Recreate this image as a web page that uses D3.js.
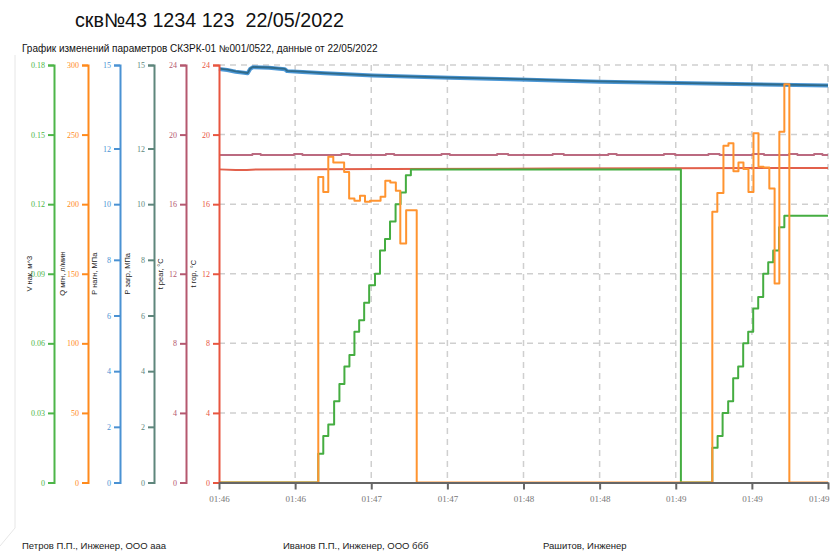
<!DOCTYPE html>
<html>
<head>
<meta charset="utf-8">
<script src="https://cdn.jsdelivr.net/npm/d3@7/dist/d3.min.js"></script>
<style>
  body { margin: 0; background: #fff; }
  svg { display: block; }
</style>
</head>
<body>
<script>
// --- data (time offsets in seconds from 01:46:20) ---
const startTime = new Date(2022, 4, 22, 1, 46, 20);
const spanSeconds = 219;

const vTimes = [0, 35.7, 37.5, 39.3, 41.4, 43.3, 45.1, 46.9, 48.7, 50.4, 52.2, 54.0, 56.1, 57.9, 59.7, 61.5, 63.5, 65.3, 67.2, 69.0,
  166.1, 177.4, 179.3, 181.1, 183.1, 184.9, 186.7, 188.5, 190.3, 192.1, 193.9, 195.7, 197.5, 199.3, 201.4, 203.3, 219];
const vValues = [0, 0.0124, 0.02, 0.025, 0.035, 0.0425, 0.05, 0.055, 0.065, 0.07, 0.0775, 0.085, 0.09, 0.1, 0.105, 0.1125, 0.12, 0.125, 0.1325, 0.135,
  0, 0.015, 0.02, 0.03, 0.035, 0.045, 0.05, 0.06, 0.065, 0.075, 0.08, 0.09, 0.095, 0.1, 0.11, 0.115, 0.115];

const qTimes = [0, 35.7, 37.5, 39.3, 41.1, 45.0, 46.8, 48.7, 50.7, 52.5, 54.3, 58.1, 59.8, 61.6, 63.6, 65.2, 67.3, 71.1,
  177.4, 179.2, 181.4, 183.2, 185.0, 186.8, 188.6, 190.4, 192.2, 194.0, 195.8, 197.9, 199.8, 201.5, 203.3, 205.1, 219];
const qValues = [0, 219.6, 208.8, 234, 230, 223.2, 204, 202.4, 206, 201.7, 202.4, 205.3, 216.8, 215.6, 209.6, 171.7, 195.7, 0,
  194.5, 208.1, 241.9, 243.7, 223.7, 230, 225.2, 208.8, 250.9, 226.8, 226.4, 211.3, 143, 252, 286.1, 0, 0];

const pInjTimes = [0, 3, 6, 9, 10.3, 11.2, 12.2, 18, 23.7, 24.5, 30, 38.1, 55.4, 83.1, 104.7, 137, 170, 219];
const pInjValues = [14.86, 14.82, 14.76, 14.72, 14.70, 14.86, 14.92, 14.9, 14.85, 14.78, 14.75, 14.70, 14.62, 14.54, 14.49, 14.40, 14.34, 14.26];

const pLoadTimes = [0, 3, 6, 9, 10.3, 11.2, 12.2, 18, 23.7, 24.5, 30, 38.1, 55.4, 83.1, 104.7, 137, 170, 219];
const pLoadValues = [14.87, 14.83, 14.77, 14.73, 14.71, 14.87, 14.93, 14.91, 14.86, 14.79, 14.76, 14.71, 14.63, 14.55, 14.50, 14.41, 14.35, 14.27];

const tReagTimes = [0, 12, 15, 27, 30, 44, 47, 60, 63, 80, 83, 100, 104, 120, 124, 140, 143, 160, 164, 176, 180, 192, 196, 205, 208, 214, 217, 219];
const tReagValues = [18.82, 18.88, 18.82, 18.88, 18.82, 18.88, 18.82, 18.88, 18.82, 18.88, 18.82, 18.88, 18.82, 18.88, 18.82, 18.88, 18.82,
  18.88, 18.82, 18.88, 18.82, 18.88, 18.82, 18.88, 18.82, 18.88, 18.82, 18.82];

const tBurnTimes = [0, 6, 10, 14, 60, 120, 219];
const tBurnValues = [18.0, 17.96, 17.97, 18.0, 18.02, 18.05, 18.08];

const vTicks = [0, 0.03, 0.06, 0.09, 0.12, 0.15, 0.18];
const qTicks = [0, 50, 100, 150, 200, 250, 300];
const pTicks = [0, 2, 4, 6, 8, 10, 12, 15];
const tTicks = [0, 4, 8, 12, 16, 20, 24];

const title = "скв№43 1234 123  22/05/2022";
const subtitle = "График изменений параметров СКЗРК-01 №001/0522, данные от 22/05/2022";
const signatures = ["Петров П.П., Инженер, ООО ааа", "Иванов П.П., Инженер, ООО ббб", "Рашитов, Инженер"];

// --- layout ---
const width = 830, height = 552;
const plotLeft = 219, plotRight = 828, plotTop = 65, plotBottom = 482.5;

const svg = d3.select("body").append("svg")
  .attr("width", width)
  .attr("height", height);

const x = d3.scaleTime()
  .domain([startTime, new Date(+startTime + spanSeconds * 1000)])
  .range([plotLeft, plotRight]);

const axes = [
  { name: "V нак, м^3", ticks: vTicks, max: 0.18, color: "#4db548", ax: 54, lx: 29, fmt: d => d === 0 ? "0" : d3.format(".2f")(d) },
  { name: "Q мгн, л/мин", ticks: qTicks, max: 300, color: "#ff8a1c", ax: 88, lx: 62, fmt: d3.format("d") },
  { name: "P нагн, МПа", ticks: pTicks, max: 15, color: "#4a92d3", ax: 120, lx: 94, fmt: d3.format("d") },
  { name: "P загр, МПа", ticks: pTicks, max: 15, color: "#5e867c", ax: 154, lx: 127, fmt: d3.format("d") },
  { name: "t реаг, °C", ticks: tTicks, max: 24, color: "#b5586f", ax: 186, lx: 160, fmt: d3.format("d") },
  { name: "t гор, °C", ticks: tTicks, max: 24, color: "#e8553f", ax: 219, lx: 193, fmt: d3.format("d") }
];
axes.forEach(a => {
  a.scale = d3.scaleLinear().domain([0, a.max]).range([plotBottom, plotTop]);
});
const [yV, yQ, yPInj, yPLoad, yTReag, yTBurn] = axes.map(a => a.scale);

// faint page edge
svg.append("path")
  .attr("d", "M15,55 V528 L0,546")
  .attr("fill", "none")
  .attr("stroke", "#e6e6e6")
  .attr("stroke-width", 1);

// titles
svg.append("text")
  .attr("x", 75).attr("y", 27)
  .attr("font-family", "Liberation Sans, Arial, sans-serif")
  .attr("font-size", 19.7)
  .attr("fill", "#111")
  .style("white-space", "pre")
  .text(title);

svg.append("text")
  .attr("x", 22).attr("y", 52)
  .attr("font-family", "Liberation Sans, Arial, sans-serif")
  .attr("font-size", 10)
  .attr("fill", "#111")
  .text(subtitle);

// grid
const xTicks = d3.range(9).map(i => new Date(+startTime + i * spanSeconds * 1000 / 8));

svg.append("g")
  .selectAll("line")
  .data(tTicks.filter(d => d > 0))
  .join("line")
  .attr("x1", plotLeft).attr("x2", plotRight)
  .attr("y1", d => yTBurn(d)).attr("y2", d => yTBurn(d))
  .attr("stroke", "#cfcfcf")
  .attr("stroke-width", 1.5)
  .attr("stroke-dasharray", "6,5");

svg.append("g")
  .selectAll("line")
  .data(xTicks.slice(1))
  .join("line")
  .attr("x1", d => x(d)).attr("x2", d => x(d))
  .attr("y1", plotTop).attr("y2", plotBottom)
  .attr("stroke", "#cfcfcf")
  .attr("stroke-width", 1.5)
  .attr("stroke-dasharray", "6,5");

// series
const toPoints = (times, values) => times.map((t, i) => [new Date(+startTime + t * 1000), values[i]]);

function drawSeries(times, values, yScale, color, w, curve) {
  svg.append("path")
    .datum(toPoints(times, values))
    .attr("fill", "none")
    .attr("stroke", color)
    .attr("stroke-width", w)
    .attr("stroke-linejoin", "round")
    .attr("d", d3.line().x(d => x(d[0])).y(d => yScale(d[1])).curve(curve));
}

drawSeries(tReagTimes, tReagValues, yTReag, "#bb6a80", 2, d3.curveStepAfter);
drawSeries(tBurnTimes, tBurnValues, yTBurn, "#e2604b", 2, d3.curveLinear);
drawSeries(pInjTimes, pInjValues, yPInj, "#4b97d6", 4, d3.curveLinear);
drawSeries(pLoadTimes, pLoadValues, yPLoad, "#2f6a8a", 1.8, d3.curveLinear);
drawSeries(vTimes, vValues, yV, "#45ad41", 2, d3.curveStepAfter);
drawSeries(qTimes, qValues, yQ, "#ff9430", 2, d3.curveStepAfter);

// y axes
axes.forEach(a => {
  const g = svg.append("g")
    .attr("transform", `translate(${a.ax},0)`)
    .call(d3.axisLeft(a.scale).tickValues(a.ticks).tickFormat(a.fmt).tickSize(6).tickSizeOuter(6));
  g.select(".domain").attr("stroke", a.color).attr("stroke-width", 2);
  g.selectAll(".tick line").attr("stroke", a.color).attr("stroke-width", 2);
  g.selectAll(".tick text")
    .attr("fill", a.color)
    .attr("font-family", "Liberation Serif, Times New Roman, serif")
    .attr("font-size", 8);

  svg.append("text")
    .attr("transform", `translate(${a.lx},${(plotTop + plotBottom) / 2}) rotate(-90)`)
    .attr("text-anchor", "middle")
    .attr("dy", "0.35em")
    .attr("font-family", "Liberation Sans, Arial, sans-serif")
    .attr("font-size", 7.5)
    .attr("fill", "#222")
    .text(a.name);
});

// x axis
const gx = svg.append("g")
  .attr("transform", `translate(0,${plotBottom})`)
  .call(d3.axisBottom(x).tickValues(xTicks).tickFormat(d3.timeFormat("%H:%M")).tickSize(7).tickSizeOuter(0));
gx.select(".domain").attr("stroke", "#666").attr("stroke-width", 2);
gx.selectAll(".tick line").attr("stroke", "#666").attr("stroke-width", 2);
gx.selectAll(".tick text")
  .attr("fill", "#777")
  .attr("font-family", "Liberation Serif, Times New Roman, serif")
  .attr("font-size", 9)
  .attr("dy", "1.1em");
gx.selectAll(".tick:last-of-type text")
  .attr("text-anchor", "end")
  .attr("x", 1);

// signatures
svg.append("g")
  .selectAll("text")
  .data(signatures)
  .join("text")
  .attr("x", (d, i) => [22, 283, 543][i])
  .attr("y", 549)
  .attr("font-family", "Liberation Sans, Arial, sans-serif")
  .attr("font-size", 9.5)
  .attr("fill", "#222")
  .text(d => d);
</script>
</body>
</html>
